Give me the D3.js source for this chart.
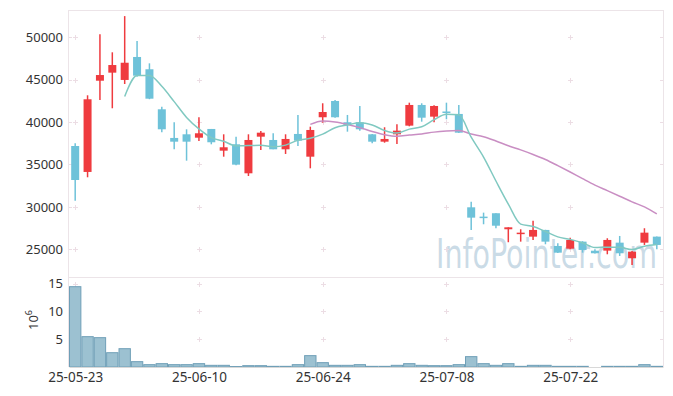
<!DOCTYPE html>
<html><head><meta charset="utf-8">
<script src="https://cdn.jsdelivr.net/npm/d3@7"></script>
<style>
html,body{margin:0;padding:0;background:#fff;}
svg{display:block;font-family:"Noto Sans",sans-serif;}
</style></head><body>
<div id="chart"></div>
<script>
const dates = ["25-05-23","25-05-26","25-05-27","25-05-28","25-05-29","25-05-30","25-06-02","25-06-04","25-06-05","25-06-09",
"25-06-10","25-06-11","25-06-12","25-06-13","25-06-16","25-06-17","25-06-18","25-06-19","25-06-20","25-06-23",
"25-06-24","25-06-25","25-06-26","25-06-27","25-06-30","25-07-01","25-07-02","25-07-03","25-07-04","25-07-07",
"25-07-08","25-07-09","25-07-10","25-07-11","25-07-14","25-07-15","25-07-16","25-07-17","25-07-18","25-07-21",
"25-07-22","25-07-23","25-07-24","25-07-25","25-07-28","25-07-29","25-07-30","25-07-31"];
const open = [37180,34120,44880,45830,44970,47680,46230,41510,38130,38560,
38160,39190,36630,37380,33960,38280,37890,36790,38600,35920,
40570,42490,39980,39980,38560,37690,38560,39580,42020,40640,
41250,40960,29950,28850,29250,27360,26800,26490,27280,25390,
25070,25900,24830,24840,25780,23940,25780,26490];
const high = [37500,43160,50350,48230,52500,49560,46930,41820,39980,39150,
40570,39190,38560,38280,38560,38950,38680,38560,40840,39460,
42220,42610,40840,41900,38600,39390,39740,42290,42220,42000,
42290,42020,30610,29320,29250,27590,27360,28370,27300,25710,
26370,25950,25000,26300,26570,24800,27480,26500];
const low = [30730,33490,42600,41630,44490,45350,42700,38800,36790,35450,
37770,37380,35920,34900,33640,36710,36790,36240,37180,34550,
39930,40500,38870,38990,37500,37570,37420,39500,40050,39980,
40330,38700,27280,27950,27480,25830,25900,26100,25590,24550,
25000,24600,24500,24410,24210,23150,25510,25000];
const close = [33170,42690,45550,46730,47000,45470,42760,39150,37690,37690,
38680,37620,37030,34980,37890,38750,36790,38010,37810,39070,
41190,40570,39660,39150,37690,38010,38990,42020,40520,41900,
41200,38750,28730,28800,27780,27590,26960,27280,25900,24600,
26100,24920,24530,26100,24530,24720,26960,25510];
const volume = [14.43,5.45,5.27,2.57,3.29,0.96,0.42,0.6,0.42,0.42,
0.6,0.3,0.3,0.08,0.24,0.24,0.12,0.12,0.42,2.04,
0.78,0.3,0.3,0.42,0.12,0.12,0.3,0.6,0.3,0.24,
0.24,0.42,1.86,0.6,0.3,0.6,0.12,0.3,0.3,0.12,
0.12,0.12,0.0,0.12,0.12,0.12,0.42,0.12];
const priceTicks = [25000,30000,35000,40000,45000,50000];
const volTicks = [5,10,15];
const dateTickIdx = [0,10,20,30,40];

function movingAvg(arr, n){
  return arr.map((v,i)=> i<n-1 ? null : d3.mean(arr.slice(i-n+1,i+1)));
}
const ma5 = movingAvg(close,5);
const ma20 = movingAvg(close,20);

const W=673,H=396;
const L=69,R=663,T=10,PB=277,VB=367;
const svg = d3.select("#chart").append("svg").attr("width",W).attr("height",H);

const x = d3.scaleLinear().domain([-0.5, dates.length-0.5]).range([L,R]);
const y = d3.scaleLinear().domain([21730,53220]).range([PB,T]);
const yv = d3.scaleLinear().domain([0,16.17]).range([VB,PB]);
const step = x(1)-x(0);

// watermark
svg.append("text").attr("x",436).attr("y",268)
  .attr("font-family","'Liberation Sans Narrow','DejaVu Sans Condensed',sans-serif").attr("font-size",40)
  .attr("textLength",221).attr("lengthAdjust","spacingAndGlyphs")
  .attr("fill","#b3cbdb").attr("fill-opacity",0.7).text("InfoPointer.com");

// frame
const frameC="#ece4e8";
svg.append("line").attr("x1",L).attr("x2",R).attr("y1",T+0.5).attr("y2",T+0.5).attr("stroke",frameC);
svg.append("line").attr("x1",L).attr("x2",R).attr("y1",PB+0.5).attr("y2",PB+0.5).attr("stroke",frameC);
svg.append("line").attr("x1",L-0.5).attr("x2",L-0.5).attr("y1",T).attr("y2",VB).attr("stroke",frameC);
svg.append("line").attr("x1",R+0.5).attr("x2",R+0.5).attr("y1",T).attr("y2",VB).attr("stroke",frameC);

// crosses grid
const crossC="#ecdde4";
function cross(cx,cy){
  svg.append("line").attr("x1",cx-2.5).attr("x2",cx+2.5).attr("y1",cy).attr("y2",cy).attr("stroke",crossC);
  svg.append("line").attr("x1",cx).attr("x2",cx).attr("y1",cy-2.5).attr("y2",cy+2.5).attr("stroke",crossC);
}
dateTickIdx.forEach(i=>{
  priceTicks.forEach(p=>cross(Math.round(x(i))+0.5,Math.round(y(p))+0.5));
  volTicks.forEach(v=>cross(Math.round(x(i))+0.5,Math.round(yv(v))+0.5));
});
priceTicks.forEach(p=>{
  svg.append("line").attr("x1",L).attr("x2",L+3).attr("y1",Math.round(y(p))+0.5).attr("y2",Math.round(y(p))+0.5).attr("stroke",crossC);
  svg.append("line").attr("x1",R-3).attr("x2",R).attr("y1",Math.round(y(p))+0.5).attr("y2",Math.round(y(p))+0.5).attr("stroke",crossC);
});
volTicks.forEach(v=>{
  svg.append("line").attr("x1",R-3).attr("x2",R).attr("y1",Math.round(yv(v))+0.5).attr("y2",Math.round(yv(v))+0.5).attr("stroke",crossC);
});

// axes labels
const yAxis = d3.axisLeft(y).tickValues(priceTicks).tickSize(0).tickPadding(6).tickFormat(d3.format("d"));
const ga = svg.append("g").attr("transform",`translate(${L},0)`).call(yAxis);
ga.select(".domain").remove();
ga.selectAll("text").attr("font-size",13).attr("fill","#333").attr("font-family","'Noto Sans',sans-serif");

const vAxis = d3.axisLeft(yv).tickValues(volTicks).tickSize(0).tickPadding(6).tickFormat(d3.format("d"));
const gv = svg.append("g").attr("transform",`translate(${L},0)`).call(vAxis);
gv.select(".domain").remove();
gv.selectAll("text").attr("font-size",13).attr("fill","#333").attr("font-family","'Noto Sans',sans-serif");

const xAxis = d3.axisBottom(x).tickValues(dateTickIdx).tickSize(0).tickPadding(5).tickFormat(i=>dates[i]);
const gx = svg.append("g").attr("transform",`translate(0,${VB})`).call(xAxis);
gx.select(".domain").attr("stroke","#d8d8d8");
gx.selectAll("text").attr("font-size",13.5).attr("fill","#333").attr("font-family","'Noto Sans',sans-serif");

// 10^6 label
const lab = svg.append("text").attr("transform","translate(38,320) rotate(-90)")
  .attr("text-anchor","middle").attr("font-size",13).attr("fill","#333");
lab.append("tspan").text("10");
lab.append("tspan").attr("dy",-6).attr("font-size",9).text("6");

// volume bars
svg.append("clipPath").attr("id","cv").append("rect").attr("x",L).attr("y",PB).attr("width",R-L).attr("height",VB-PB);
svg.append("g").attr("clip-path","url(#cv)").selectAll("rect").data(volume).join("rect")
  .attr("x",(d,i)=>x(i)-step/2+0.5).attr("width",step-1)
  .attr("y",d=>yv(d)).attr("height",d=>VB-yv(d))
  .attr("fill","#9cc1d1").attr("stroke","#6f9fb7").attr("stroke-width",1);

// candles
const up="#ef3b3f", down="#6ec2d9";
const cg = svg.append("g");
dates.forEach((d,i)=>{
  const c = close[i]>=open[i]?up:down;
  const cx = x(i);
  cg.append("line").attr("x1",cx).attr("x2",cx).attr("y1",y(high[i])).attr("y2",y(low[i]))
    .attr("stroke",c).attr("stroke-width",1.5);
  const top=y(Math.max(open[i],close[i])), bot=y(Math.min(open[i],close[i]));
  cg.append("rect").attr("x",cx-4).attr("width",8).attr("y",top).attr("height",Math.max(1.5,bot-top)).attr("fill",c);
});

// MA lines
const line = d3.line().defined(d=>d!=null).x((d,i)=>x(i)).y(d=>y(d)).curve(d3.curveMonotoneX);
svg.append("path").datum(ma20).attr("d",line).attr("fill","none").attr("stroke","#c98ec3").attr("stroke-width",1.5);
svg.append("path").datum(ma5).attr("d",line).attr("fill","none").attr("stroke","#80c9c1").attr("stroke-width",1.5);
</script></body></html>
